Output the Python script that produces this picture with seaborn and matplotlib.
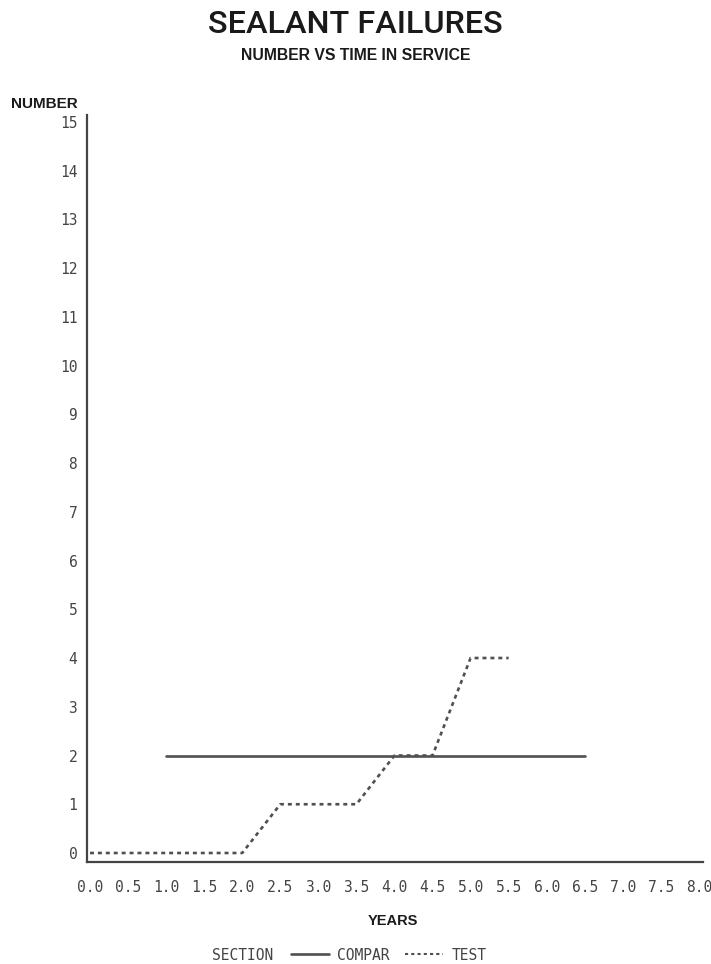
import matplotlib
matplotlib.use("Agg")
import matplotlib.pyplot as plt
from matplotlib.lines import Line2D
import seaborn as sns
import pandas as pd

# Failure counts by years in service
compar_years = [1.0, 6.5]
compar_number = [2, 2]
test_years = [0.0, 2.0, 2.5, 3.5, 4.0, 4.5, 5.0, 5.5]
test_number = [0, 0, 1, 1, 2, 2, 4, 4]

x_ticks = [0.0, 0.5, 1.0, 1.5, 2.0, 2.5, 3.0, 3.5, 4.0, 4.5, 5.0, 5.5, 6.0, 6.5, 7.0, 7.5, 8.0]
y_ticks = list(range(0, 16))

df = pd.concat([
    pd.DataFrame({"YEARS": compar_years, "NUMBER": compar_number, "SECTION": "COMPAR"}),
    pd.DataFrame({"YEARS": test_years, "NUMBER": test_number, "SECTION": "TEST"}),
], ignore_index=True)

sns.set_style("white")
plt.rcParams["font.family"] = ["DejaVu Sans"]

line_color = "#505050"
text_gray = "#444444"
fig = plt.figure(figsize=(7.11, 9.64), dpi=100)
ax = fig.add_axes([0.1224, 0.1058, 0.8663, 0.7749])

sns.lineplot(data=df, x="YEARS", y="NUMBER", hue="SECTION", style="SECTION",
             palette={"COMPAR": line_color, "TEST": line_color},
             dashes={"COMPAR": "", "TEST": (1.5, 1.5)},
             linewidth=1.9, legend=False, ax=ax, estimator=None, sort=False)

ax.set_xlim(-0.039, 8.053)
ax.set_ylim(-0.185, 15.14)
ax.set_xticks(x_ticks)
ax.set_xticklabels([f"{v:.1f}" for v in x_ticks])
ax.set_yticks(y_ticks)
ax.set_yticklabels([str(v) for v in y_ticks])
ax.set_xlabel("")
ax.set_ylabel("")

for side in ["top", "right"]:
    ax.spines[side].set_visible(False)
for side in ["left", "bottom"]:
    ax.spines[side].set_color("#444444")
    ax.spines[side].set_linewidth(1.6)

ax.tick_params(axis="x", direction="out", length=7, width=1.0, color="#555555", pad=6)
ax.tick_params(axis="y", direction="out", length=4, width=1.0, color="#555555", pad=3)
for lbl in ax.get_xticklabels() + ax.get_yticklabels():
    lbl.set_fontfamily("DejaVu Sans Mono")
    lbl.set_fontsize(10.5)
    lbl.set_color(text_gray)

fig.text(0.5, 0.9745, "SEALANT FAILURES", ha="center", va="center",
         fontsize=23.3, fontweight="medium", family=["Roboto", "Liberation Sans"],
         color="#1a1a1a")
fig.text(0.5, 0.9424, "NUMBER VS TIME IN SERVICE", ha="center", va="center",
         fontsize=11.3, fontweight="bold", family="Liberation Sans", color="#1a1a1a")
fig.text(0.016, 0.892, "NUMBER", ha="left", va="center",
         fontsize=11, fontweight="bold", family="Liberation Sans", color="#1a1a1a")
fig.text(0.553, 0.0441, "YEARS", ha="center", va="center",
         fontsize=10.5, fontweight="bold", family="Liberation Sans", color="#1a1a1a")

handles = [Line2D([], [], color=line_color, lw=1.9, label="COMPAR"),
           Line2D([], [], color=line_color, lw=1.5, dashes=(1.5, 1.5), label="TEST")]
fig.text(0.384, 0.0093, "SECTION", ha="right", va="center",
         family="DejaVu Sans Mono", fontsize=10.5, color=text_gray)
fig.legend(handles=handles, ncol=2, loc="center left", bbox_to_anchor=(0.409, 0.0093),
           frameon=False, handlelength=2.6, handletextpad=0.55, columnspacing=1.1,
           prop={"family": "DejaVu Sans Mono", "size": 10.5}, labelcolor=text_gray,
           borderpad=0, borderaxespad=0)

fig.savefig("out.png", dpi=100, facecolor="white")
